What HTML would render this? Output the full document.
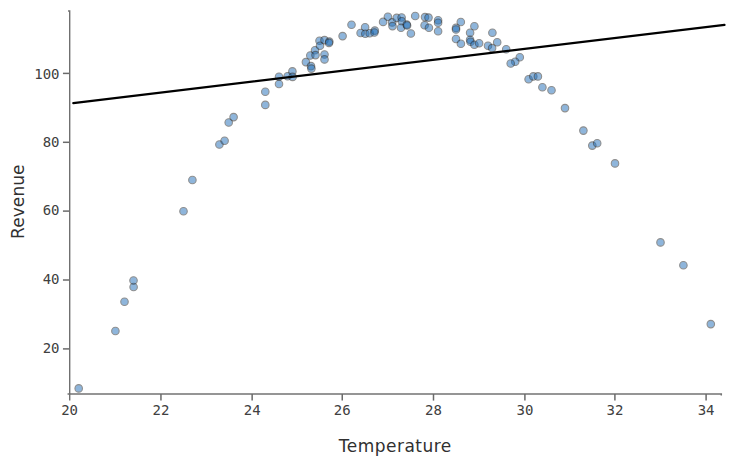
<!DOCTYPE html><html><head><meta charset="utf-8"><style>html,body{margin:0;padding:0;background:#fff;width:735px;height:464px;overflow:hidden}svg{display:block}</style></head><body>
<svg width="735" height="464" viewBox="0 0 735 464">
<g stroke="#737373" stroke-width="1.5" fill="none">
<path d="M67.55,394.0H721.3V395.5"/>
</g>
<g stroke="#6a6a6a" stroke-width="1.5" fill="none">
<path d="M160.95,394.0V400.6"/>
<path d="M252.15,394.0V400.6"/>
<path d="M342.25,394.0V400.6"/>
<path d="M433.5,394.0V400.6"/>
<path d="M524.9,394.0V400.6"/>
<path d="M614.9,394.0V400.6"/>
<path d="M706.1,394.0V400.6"/>
<path d="M62.949999999999996,348.9H69.55"/>
<path d="M62.949999999999996,280.0H69.55"/>
<path d="M62.949999999999996,211.1H69.55"/>
<path d="M62.949999999999996,142.3H69.55"/>
<path d="M62.949999999999996,73.4H69.55"/>
</g>
<path d="M68.05,11.0H69.7V400.6" stroke="#707070" stroke-width="1.4" fill="none"/>
<g font-family="DejaVu Sans Mono, monospace" font-size="14" fill="#404040" stroke="#404040" stroke-width="0.0">
<text x="69.6" y="414.5" text-anchor="middle">20</text>
<text x="160.95" y="414.5" text-anchor="middle">22</text>
<text x="252.15" y="414.5" text-anchor="middle">24</text>
<text x="342.25" y="414.5" text-anchor="middle">26</text>
<text x="433.5" y="414.5" text-anchor="middle">28</text>
<text x="524.9" y="414.5" text-anchor="middle">30</text>
<text x="614.9" y="414.5" text-anchor="middle">32</text>
<text x="706.1" y="414.5" text-anchor="middle">34</text>
<text x="59.55" y="353.2" text-anchor="end">20</text>
<text x="59.55" y="284.3" text-anchor="end">40</text>
<text x="59.55" y="215.4" text-anchor="end">60</text>
<text x="59.55" y="146.7" text-anchor="end">80</text>
<text x="59.55" y="78.9" text-anchor="end">100</text>
</g>
<text x="395" y="452" text-anchor="middle" font-family="DejaVu Sans, sans-serif" font-size="17" fill="#303030" textLength="112.5" lengthAdjust="spacing">Temperature</text>
<text transform="translate(23.7,201.7) rotate(-90)" text-anchor="middle" font-family="DejaVu Sans, sans-serif" font-size="17" fill="#303030" textLength="74.5" lengthAdjust="spacing">Revenue</text>
<g fill="rgb(31,110,185)" stroke="#202020" stroke-width="1.1" opacity="1">
<circle cx="78.70" cy="388.40" r="3.75" opacity="0.5"/>
<circle cx="115.40" cy="331.00" r="3.75" opacity="0.5"/>
<circle cx="124.50" cy="301.70" r="3.75" opacity="0.5"/>
<circle cx="133.60" cy="287.00" r="3.75" opacity="0.5"/>
<circle cx="133.50" cy="280.50" r="3.75" opacity="0.5"/>
<circle cx="183.50" cy="211.30" r="3.75" opacity="0.5"/>
<circle cx="192.40" cy="180.00" r="3.75" opacity="0.5"/>
<circle cx="219.40" cy="144.50" r="3.75" opacity="0.5"/>
<circle cx="224.60" cy="140.80" r="3.75" opacity="0.5"/>
<circle cx="228.70" cy="122.50" r="3.75" opacity="0.5"/>
<circle cx="233.60" cy="117.10" r="3.75" opacity="0.5"/>
<circle cx="265.30" cy="91.70" r="3.75" opacity="0.5"/>
<circle cx="265.30" cy="104.90" r="3.75" opacity="0.5"/>
<circle cx="279.00" cy="76.70" r="3.75" opacity="0.5"/>
<circle cx="279.00" cy="84.00" r="3.75" opacity="0.5"/>
<circle cx="287.60" cy="76.30" r="3.75" opacity="0.5"/>
<circle cx="292.40" cy="71.40" r="3.75" opacity="0.5"/>
<circle cx="292.60" cy="76.90" r="3.75" opacity="0.5"/>
<circle cx="305.90" cy="62.10" r="3.75" opacity="0.5"/>
<circle cx="311.00" cy="66.10" r="3.75" opacity="0.5"/>
<circle cx="311.40" cy="68.60" r="3.75" opacity="0.5"/>
<circle cx="310.30" cy="55.50" r="3.75" opacity="0.5"/>
<circle cx="315.00" cy="50.30" r="3.75" opacity="0.5"/>
<circle cx="315.50" cy="55.10" r="3.75" opacity="0.5"/>
<circle cx="319.50" cy="40.70" r="3.75" opacity="0.5"/>
<circle cx="320.00" cy="45.70" r="3.75" opacity="0.5"/>
<circle cx="324.50" cy="40.10" r="3.75" opacity="0.5"/>
<circle cx="329.30" cy="41.60" r="3.75" opacity="0.5"/>
<circle cx="329.00" cy="42.90" r="3.75" opacity="0.5"/>
<circle cx="324.50" cy="54.50" r="3.75" opacity="0.5"/>
<circle cx="324.50" cy="59.40" r="3.75" opacity="0.5"/>
<circle cx="342.60" cy="36.10" r="3.75" opacity="0.5"/>
<circle cx="351.50" cy="24.80" r="3.75" opacity="0.5"/>
<circle cx="365.10" cy="27.20" r="3.75" opacity="0.5"/>
<circle cx="360.60" cy="33.00" r="3.75" opacity="0.5"/>
<circle cx="365.30" cy="33.70" r="3.75" opacity="0.5"/>
<circle cx="369.70" cy="33.20" r="3.75" opacity="0.5"/>
<circle cx="374.80" cy="30.60" r="3.75" opacity="0.5"/>
<circle cx="374.40" cy="32.50" r="3.75" opacity="0.5"/>
<circle cx="383.10" cy="21.90" r="3.75" opacity="0.5"/>
<circle cx="387.90" cy="16.70" r="3.75" opacity="0.5"/>
<circle cx="392.20" cy="22.40" r="3.75" opacity="0.5"/>
<circle cx="392.50" cy="26.10" r="3.75" opacity="0.5"/>
<circle cx="396.70" cy="17.90" r="3.75" opacity="0.5"/>
<circle cx="401.60" cy="17.50" r="3.75" opacity="0.5"/>
<circle cx="401.80" cy="21.30" r="3.75" opacity="0.5"/>
<circle cx="401.00" cy="27.80" r="3.75" opacity="0.5"/>
<circle cx="406.70" cy="24.60" r="3.75" opacity="0.5"/>
<circle cx="407.10" cy="25.50" r="3.75" opacity="0.5"/>
<circle cx="410.90" cy="33.50" r="3.75" opacity="0.5"/>
<circle cx="415.20" cy="16.00" r="3.75" opacity="0.5"/>
<circle cx="425.00" cy="17.10" r="3.75" opacity="0.5"/>
<circle cx="428.50" cy="17.60" r="3.75" opacity="0.5"/>
<circle cx="424.60" cy="25.20" r="3.75" opacity="0.5"/>
<circle cx="428.90" cy="27.80" r="3.75" opacity="0.5"/>
<circle cx="438.10" cy="20.30" r="3.75" opacity="0.5"/>
<circle cx="438.10" cy="22.80" r="3.75" opacity="0.5"/>
<circle cx="438.10" cy="31.30" r="3.75" opacity="0.5"/>
<circle cx="460.80" cy="22.00" r="3.75" opacity="0.5"/>
<circle cx="456.00" cy="27.90" r="3.75" opacity="0.5"/>
<circle cx="456.00" cy="29.50" r="3.75" opacity="0.5"/>
<circle cx="456.00" cy="39.00" r="3.75" opacity="0.5"/>
<circle cx="460.90" cy="43.80" r="3.75" opacity="0.5"/>
<circle cx="474.40" cy="26.30" r="3.75" opacity="0.5"/>
<circle cx="470.10" cy="32.80" r="3.75" opacity="0.5"/>
<circle cx="470.10" cy="39.80" r="3.75" opacity="0.5"/>
<circle cx="470.50" cy="41.80" r="3.75" opacity="0.5"/>
<circle cx="474.40" cy="44.70" r="3.75" opacity="0.5"/>
<circle cx="479.10" cy="43.20" r="3.75" opacity="0.5"/>
<circle cx="492.40" cy="32.80" r="3.75" opacity="0.5"/>
<circle cx="497.20" cy="42.30" r="3.75" opacity="0.5"/>
<circle cx="488.00" cy="45.70" r="3.75" opacity="0.5"/>
<circle cx="492.10" cy="48.10" r="3.75" opacity="0.5"/>
<circle cx="506.20" cy="49.20" r="3.75" opacity="0.5"/>
<circle cx="519.80" cy="57.30" r="3.75" opacity="0.5"/>
<circle cx="515.20" cy="61.80" r="3.75" opacity="0.5"/>
<circle cx="510.70" cy="63.50" r="3.75" opacity="0.5"/>
<circle cx="528.60" cy="79.30" r="3.75" opacity="0.5"/>
<circle cx="533.30" cy="76.40" r="3.75" opacity="0.5"/>
<circle cx="537.90" cy="76.40" r="3.75" opacity="0.5"/>
<circle cx="542.40" cy="87.30" r="3.75" opacity="0.5"/>
<circle cx="551.50" cy="90.30" r="3.75" opacity="0.5"/>
<circle cx="565.00" cy="108.10" r="3.75" opacity="0.5"/>
<circle cx="583.40" cy="130.60" r="3.75" opacity="0.5"/>
<circle cx="592.30" cy="145.60" r="3.75" opacity="0.5"/>
<circle cx="597.20" cy="143.20" r="3.75" opacity="0.5"/>
<circle cx="615.00" cy="163.40" r="3.75" opacity="0.5"/>
<circle cx="660.50" cy="242.40" r="3.75" opacity="0.5"/>
<circle cx="683.40" cy="265.20" r="3.75" opacity="0.5"/>
<circle cx="710.80" cy="324.10" r="3.75" opacity="0.5"/>
</g>
<path d="M73.3,103.1L724.5,24.8" stroke="#000" stroke-width="2.2" stroke-linecap="round" fill="none"/>
</svg></body></html>
